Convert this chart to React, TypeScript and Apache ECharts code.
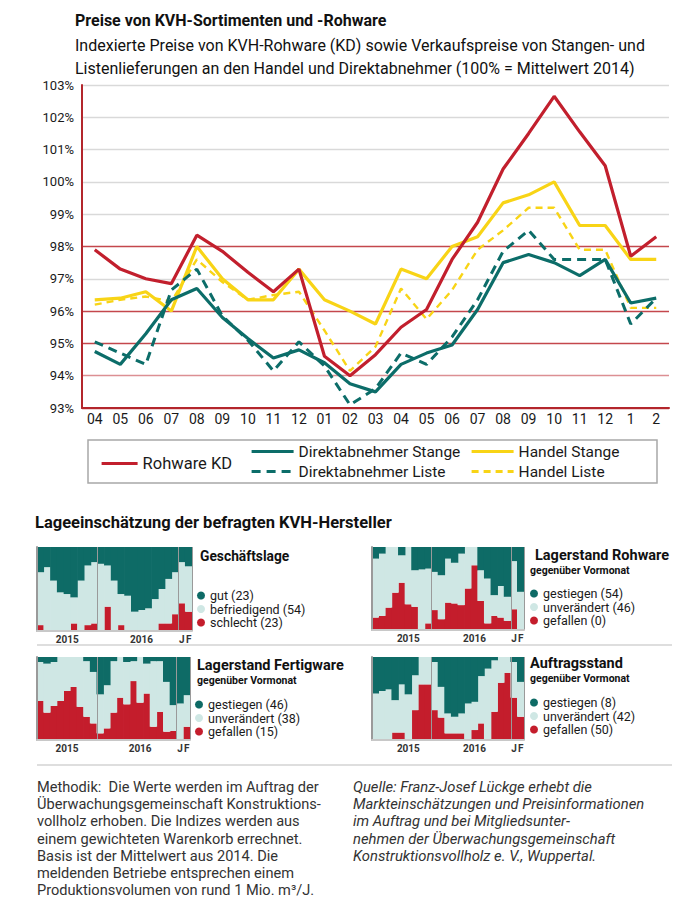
import React, { useEffect, useRef } from 'react';
import * as echarts from 'echarts';

const categories = ['2015-04','2015-05','2015-06','2015-07','2015-08','2015-09','2015-10','2015-11','2015-12','2016-01','2016-02','2016-03','2016-04','2016-05','2016-06','2016-07','2016-08','2016-09','2016-10','2016-11','2016-12','2017-01','2017-02'];
const monthLabels = ['04','05','06','07','08','09','10','11','12','01','02','03','04','05','06','07','08','09','10','11','12','1','2'];

const rohwareKD = [97.9, 97.3, 97.0, 96.85, 98.35, 97.85, 97.2, 96.6, 97.3, 94.6, 94.0, 94.65, 95.5, 96.05, 97.6, 98.75, 100.4, 101.5, 102.65, 101.55, 100.5, 97.7, 98.3];
const handelStange = [96.35, 96.4, 96.6, 96.0, 98.0, 97.0, 96.35, 96.35, 97.3, 96.35, 96.0, 95.6, 97.3, 97.0, 98.0, 98.3, 99.35, 99.6, 100.0, 98.65, 98.65, 97.6, 97.6];
const handelListe = [96.2, 96.35, 96.45, 96.3, 97.6, 96.9, 96.35, 96.5, 96.6, 95.4, 94.15, 94.9, 96.7, 95.75, 96.65, 97.9, 98.5, 99.2, 99.2, 97.9, 97.9, 96.1, 96.1];
const direktStange = [94.75, 94.35, 95.3, 96.35, 96.7, 95.8, 95.15, 94.55, 94.8, 94.4, 93.75, 93.5, 94.35, 94.7, 94.95, 96.05, 97.5, 97.75, 97.5, 97.1, 97.6, 96.25, 96.4];
const direktListe = [95.05, 94.7, 94.35, 96.65, 97.3, 95.85, 95.1, 94.15, 95.05, 94.3, 93.1, 93.6, 94.7, 94.35, 95.2, 96.35, 97.85, 98.5, 97.6, 97.6, 97.6, 95.6, 96.4];

const yearLabelsA = ['', '', '', '', '2015', '', '', '', '', '', '', '', '', '', '', '2016', '', '', '', '', '', 'J', 'F'];
const yearLabelsB = ['', '', '', '', '', '2015', '', '', '', '', '', '', '', '', '', '2016', '', '', '', '', '', 'J', 'F'];

// Geschäftslage
const gl_gut = [30, 24, 40, 54, 56, 60, 40, 22, 18, 20, 22, 40, 56, 58, 77, 75, 73, 62, 50, 38, 30, 18, 23];
const gl_befr = [63, 76, 60, 46, 44, 31, 60, 71, 73, 80, 49, 60, 37, 42, 23, 25, 27, 38, 41, 53, 50, 49, 54];
const gl_schl = [7, 0, 0, 0, 0, 9, 0, 7, 9, 0, 29, 0, 7, 0, 0, 0, 0, 0, 9, 9, 20, 33, 23];
// Lagerstand Rohware
const lr_gest = [14, 8, 0, 0, 10, 0, 28, 27, 26, 30, 34, 14, 19, 8, 0, 0, 28, 38, 58, 47, 60, 17, 54];
const lr_unv = [71, 75, 73, 55, 33, 69, 44, 73, 66, 46, 53, 53, 49, 62, 50, 22, 37, 54, 25, 38, 29, 58, 46];
const lr_gef = [15, 17, 27, 45, 57, 31, 28, 0, 8, 24, 13, 33, 32, 30, 50, 78, 35, 8, 17, 15, 11, 25, 0];
// Lagerstand Fertigware
const lf_gest = [6, 8, 6, 0, 0, 0, 0, 5, 18, 45, 34, 5, 0, 6, 5, 0, 8, 5, 5, 30, 58, 56, 46];
const lf_unv = [47, 59, 53, 53, 41, 36, 60, 67, 62, 47, 52, 62, 49, 51, 24, 55, 36, 79, 61, 60, 31, 44, 38];
const lf_gef = [47, 33, 41, 47, 59, 64, 40, 28, 20, 8, 14, 33, 51, 43, 71, 45, 56, 16, 34, 10, 11, 0, 16];
// Auftragsstand
const as_gest = [44, 41, 39, 52, 33, 45, 22, 0, 0, 6, 36, 68, 72, 68, 56, 54, 23, 14, 4, 0, 0, 6, 30];
const as_unv = [56, 59, 61, 39, 58, 55, 42, 33, 33, 58, 37, 24, 20, 24, 44, 34, 57, 86, 62, 31, 19, 43, 42];
const as_gef = [0, 0, 0, 9, 9, 0, 36, 67, 67, 36, 27, 8, 8, 8, 0, 12, 20, 0, 34, 69, 81, 51, 28];

const FONT = 'Roboto';
const RED = '#c21f2d';
const TEAL = '#0c6d69';
const YELLOW = '#f8d416';
const DARK = '#0e6b66';
const LIGHT = '#cfe7e4';
const BARRED = '#c41d2c';

export default function App() {
  const ref = useRef<HTMLDivElement>(null);
  useEffect(() => {
    if (!ref.current) return;
    const chart = echarts.init(ref.current, undefined, { renderer: 'svg' });

    const smallGrids = [
      { left: 37, top: 547, width: 155, height: 84 },
      { left: 372, top: 547, width: 152, height: 83 },
      { left: 37, top: 657, width: 153, height: 83 },
      { left: 372, top: 657, width: 152, height: 83 },
    ];
    const smallSets = [
      { names: ['gut (23)', 'befriedigend (54)', 'schlecht (23)'], data: [gl_gut, gl_befr, gl_schl], labels: yearLabelsA },
      { names: ['gestiegen (54)', 'unverändert (46)', 'gefallen (0)'], data: [lr_gest, lr_unv, lr_gef], labels: yearLabelsB },
      { names: ['gestiegen (46)', 'unverändert (38)', 'gefallen (15)'], data: [lf_gest, lf_unv, lf_gef], labels: yearLabelsA },
      { names: ['gestiegen (8)', 'unverändert (42)', 'gefallen (50)'], data: [as_gest, as_unv, as_gef], labels: yearLabelsB },
    ];
    const smallLegendPos = [
      { left: 197, top: 589 },
      { left: 530, top: 587 },
      { left: 195, top: 698 },
      { left: 530, top: 696 },
    ];

    const grids: any[] = [{ left: 82, top: 85, width: 587, height: 323 }, ...smallGrids];

    const xAxes: any[] = [
      {
        type: 'category', gridIndex: 0, data: categories, boundaryGap: true,
        axisLine: { lineStyle: { color: '#b3262c', width: 2 } },
        axisTick: { inside: true, length: 7, lineStyle: { color: '#8e2a2a', width: 1.5 } },
        axisLabel: { fontFamily: FONT, fontSize: 14, color: '#1a1a1a', margin: 4, interval: 0, formatter: (_v: string, i: number) => monthLabels[i] },
        splitLine: { show: false },
      },
    ];
    const yAxes: any[] = [
      {
        type: 'value', gridIndex: 0, min: 93, max: 103, interval: 1,
        axisLine: { show: true, lineStyle: { color: '#b3262c', width: 2 } },
        axisTick: { show: false },
        axisLabel: { fontFamily: FONT, fontSize: 13, color: '#1a1a1a', margin: 8, formatter: '{value}%' },
        splitLine: {
          show: true,
          lineStyle: {
            width: 1.3,
            color: ['#c4474d', '#dc8f93', '#c4474d', '#c4474d', '#d9d9d9', '#c4474d', '#d9d9d9', '#d9d9d9', '#d9d9d9', '#d9d9d9', '#d9d9d9'],
          },
        },
      },
    ];

    const lineBase = { type: 'line', xAxisIndex: 0, yAxisIndex: 0, symbol: 'none', showSymbol: false };
    const series: any[] = [
      { ...lineBase, name: 'Handel Liste', data: handelListe, lineStyle: { color: YELLOW, width: 2.4, type: [7, 5] }, itemStyle: { color: YELLOW } },
      { ...lineBase, name: 'Handel Stange', data: handelStange, lineStyle: { color: YELLOW, width: 3.2 }, itemStyle: { color: YELLOW } },
      { ...lineBase, name: 'Direktabnehmer Liste', data: direktListe, lineStyle: { color: TEAL, width: 3, type: [9, 6] }, itemStyle: { color: TEAL } },
      { ...lineBase, name: 'Direktabnehmer Stange', data: direktStange, lineStyle: { color: TEAL, width: 3.2 }, itemStyle: { color: TEAL } },
      { ...lineBase, name: 'Rohware KD', data: rohwareKD, lineStyle: { color: RED, width: 3.2 }, itemStyle: { color: RED } },
    ];

    const mainLegendText = { fontFamily: FONT, fontSize: 15.5, color: '#1a1a1a', lineHeight: 17 };
    const hideSym = { color: 'rgba(0,0,0,0)', borderWidth: 0 };
    const legLine = { width: 3.2 };
    const legends: any[] = [
      { data: ['Rohware KD'], left: 100, top: 455, itemWidth: 36, itemHeight: 14, padding: 0, itemStyle: hideSym, lineStyle: legLine, textStyle: { ...mainLegendText, fontSize: 16.5 } },
      { data: ['Direktabnehmer Stange', 'Direktabnehmer Liste'], orient: 'vertical', left: 250, top: 443, itemGap: 3, itemWidth: 42, itemHeight: 14, padding: 0, itemStyle: hideSym, lineStyle: legLine, textStyle: mainLegendText },
      { data: ['Handel Stange', 'Handel Liste'], orient: 'vertical', left: 470, top: 443, itemGap: 3, itemWidth: 42, itemHeight: 14, padding: 0, itemStyle: hideSym, lineStyle: legLine, textStyle: mainLegendText },
    ];

    smallSets.forEach((set, k) => {
      const gi = k + 1;
      xAxes.push({
        type: 'category', gridIndex: gi, data: categories, boundaryGap: true, z: 5,
        axisLine: { show: true, lineStyle: { color: '#c8c8c8', width: 2 } },
        axisTick: { show: false },
        axisLabel: { interval: 0, fontFamily: FONT, fontSize: 10, fontWeight: 'bold', color: '#333', margin: 3, formatter: (_v: string, i: number) => set.labels[i] },
        splitLine: { show: true, interval: (i: number) => i === 9 || i === 21, lineStyle: { color: '#9a9a9a', width: 1 } },
      });
      yAxes.push({
        type: 'value', gridIndex: gi, min: 0, max: 100, z: 5,
        axisLine: { show: true, lineStyle: { color: '#9a9a9a', width: 2 } },
        axisTick: { show: false }, axisLabel: { show: false }, splitLine: { show: false },
      });
      const colors = [DARK, LIGHT, BARRED];
      // bottom to top: red, light, dark
      [2, 1, 0].forEach((j) => {
        series.push({
          name: set.names[j], type: 'bar', xAxisIndex: gi, yAxisIndex: gi, stack: 's' + gi,
          data: set.data[j], barWidth: 7.4,
          itemStyle: { color: colors[j] },
        });
      });
      legends.push({
        data: set.names, orient: 'vertical', left: smallLegendPos[k].left, top: smallLegendPos[k].top,
        icon: 'circle', itemWidth: 8, itemHeight: 8, itemGap: 0.5, padding: 0,
        textStyle: { fontFamily: FONT, fontSize: 12.5, color: '#1a1a1a', lineHeight: 13 },
      });
    });

    const txt = (text: string, x: number, y: number, size: number, weight: string = 'normal', extra: any = {}) => ({
      type: 'text', x, y,
      style: { text, fontFamily: FONT, fontSize: size, fontWeight: weight, fill: '#111', textVerticalAlign: 'middle', ...extra },
    });

    const graphic: any[] = [
      txt('Preise von KVH-Sortimenten und -Rohware', 75, 20, 16, 'bold'),
      txt('Indexierte Preise von KVH-Rohware (KD) sowie Verkaufspreise von Stangen- und', 75, 45, 16),
      txt('Listenlieferungen an den Handel und Direktabnehmer (100% = Mittelwert 2014)', 75, 68, 16),
      { type: 'rect', shape: { x: 88, y: 440, width: 569, height: 43 }, style: { fill: 'none', stroke: '#a8a8a8', lineWidth: 1.5 } },
      txt('Lageeinschätzung der befragten KVH-Hersteller', 35, 522, 16.5, 'bold'),
      txt('Geschäftslage', 200, 556, 13.8, 'bold'),
      txt('Lagerstand Rohware', 535, 555, 14.5, 'bold'),
      txt('gegenüber Vormonat', 530, 570, 10.5, 'bold'),
      txt('Lagerstand Fertigware', 197, 665, 14.5, 'bold'),
      txt('gegenüber Vormonat', 197, 680, 10.5, 'bold'),
      txt('Auftragsstand', 530, 663, 14.5, 'bold'),
      txt('gegenüber Vormonat', 530, 678, 10.5, 'bold'),
      { type: 'line', shape: { x1: 37, y1: 645, x2: 672, y2: 645 }, style: { stroke: '#dedede', lineWidth: 2 } },
      { type: 'line', shape: { x1: 37, y1: 765, x2: 672, y2: 765 }, style: { stroke: '#dedede', lineWidth: 2 } },
      {
        type: 'text', x: 37, y: 778,
        style: {
          text: 'Methodik:  Die Werte werden im Auftrag der\nÜberwachungsgemeinschaft Konstruktions-\nvollholz erhoben. Die Indizes werden aus\neinem gewichteten Warenkorb errechnet.\nBasis ist der Mittelwert aus 2014. Die\nmeldenden Betriebe entsprechen einem\nProduktionsvolumen von rund 1 Mio. m³/J.',
          fontFamily: FONT, fontSize: 14.6, lineHeight: 17.3, fill: '#333', textVerticalAlign: 'top',
        },
      },
      {
        type: 'text', x: 353, y: 778,
        style: {
          text: 'Quelle: Franz-Josef Lückge erhebt die\nMarkteinschätzungen und Preisinformationen\nim Auftrag und bei Mitgliedsunter-\nnehmen der Überwachungsgemeinschaft\nKonstruktionsvollholz e. V., Wuppertal.',
          fontFamily: FONT, fontSize: 14.8, fontStyle: 'italic', lineHeight: 17.3, fill: '#333', textVerticalAlign: 'top',
        },
      },
    ];

    chart.setOption({
      animation: false,
      backgroundColor: '#fff',
      grid: grids,
      xAxis: xAxes,
      yAxis: yAxes,
      legend: legends,
      series,
      graphic,
    });
    return () => chart.dispose();
  }, []);
  return <div ref={ref} style={{ position: 'absolute', left: 0, top: 0, width: 700, height: 911 }} />;
}
